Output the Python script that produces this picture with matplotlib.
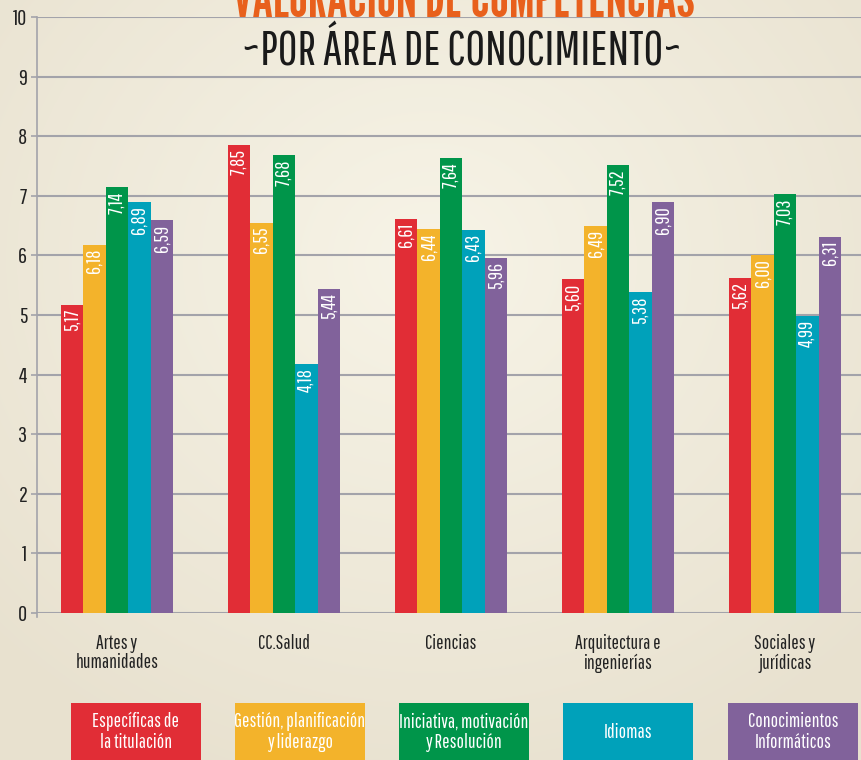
import numpy as np
import matplotlib
matplotlib.use("Agg")
import matplotlib.pyplot as plt
from matplotlib.patches import Rectangle

plt.rcParams['font.family'] = ['Pathway Gothic One', 'DejaVu Sans']

# ---- data ----
categories = ["Artes y\nhumanidades", "CC.Salud", "Ciencias",
              "Arquitectura e\ningenierías", "Sociales y\njurídicas"]
series_names = ["Específicas de\nla titulación", "Gestión, planificación\ny liderazgo",
                "Iniciativa, motivación\ny Resolución", "Idiomas",
                "Conocimientos\nInformáticos"]
especificas = [5.17, 7.85, 6.61, 5.60, 5.62]
gestion     = [6.18, 6.55, 6.44, 6.49, 6.00]
iniciativa  = [7.14, 7.68, 7.64, 7.52, 7.03]
idiomas     = [6.89, 4.18, 6.43, 5.38, 4.99]
informatica = [6.59, 5.44, 5.96, 6.90, 6.31]
series = [especificas, gestion, iniciativa, idiomas, informatica]
yticks = list(range(0, 11))
colors = ["#E12D36", "#F3B32B", "#00954A", "#00A1BA", "#81629B"]

W, H = 861, 760
fig = plt.figure(figsize=(W / 100, H / 100), dpi=100)

# background radial gradient
bg = fig.add_axes([0, 0, 1, 1], zorder=-10)
yy, xx = np.mgrid[0:H, 0:W]
r = np.sqrt(((xx - 430) / 620.0) ** 2 + ((yy - 260) / 560.0) ** 2)
r = np.clip(r, 0, 1)
c0 = np.array([247, 244, 231]) / 255.0
c1 = np.array([232, 225, 207]) / 255.0
img = c0[None, None, :] * (1 - r[..., None]) + c1[None, None, :] * r[..., None]
bg.imshow(img, aspect='auto', extent=[0, 1, 0, 1], origin='upper')
bg.axis('off')

ax = fig.add_axes([37 / W, 147 / H, 1 - 37 / W, 596 / H])
ax.set_facecolor('none')
x = np.arange(len(categories))
w = 0.134
for i, (vals, col) in enumerate(zip(series, colors)):
    xs = x + (i - 2) * w
    ax.bar(xs, vals, width=w, color=col, zorder=3, linewidth=0)
    for xi, v in zip(xs, vals):
        ax.text(xi, v - 0.07, f"{v:.2f}".replace('.', ','), rotation=90,
                ha='center', va='top', color='white', fontsize=14.5, zorder=4)

ax.set_xlim(-0.479, 4.455)
ax.set_ylim(0, 10)
ax.set_yticks(yticks)
ax.set_yticklabels([str(t) for t in yticks], fontsize=16, color='#222222')
ax.yaxis.grid(True, color='#A3A3AA', linewidth=1.5, zorder=0)
ax.set_axisbelow(True)
ax.tick_params(axis='y', length=4, width=1.2, color='#A3A3AA', pad=3)
ax.tick_params(axis='x', length=0)
ax.set_xticks([])
for s in ['top', 'right', 'bottom']:
    ax.spines[s].set_visible(False)
ax.spines['left'].set_color('#A3A3AA')
ax.spines['left'].set_linewidth(1.2)
ax.spines['left'].set_bounds(-0.06, 10)

# category labels
for xi, cat in zip(x, categories):
    ax.text(xi, -0.36, cat, ha='center', va='top', fontsize=14, color='#222222',
            linespacing=1.0)

# titles
t1 = fig.text(464 / W, 1 - 17 / H, "VALORACIÓN DE COMPETENCIAS", ha='center', va='baseline',
              fontsize=40, color='#E8601C', family=['League Gothic', 'DejaVu Sans'])
t2 = fig.text(462 / W, 1 - 65 / H, "~POR ÁREA DE CONOCIMIENTO~", ha='center', va='baseline',
              fontsize=40, color='#1a1a1a')
renderer = fig.canvas.get_renderer()
for t, target in [(t1, 462), (t2, 440)]:
    bw = t.get_window_extent(renderer).width
    t.set_fontsize(t.get_fontsize() * target / bw)

# legend boxes
box_x = [71, 235, 399, 563, 728]
for bx, name, col in zip(box_x, series_names, colors):
    fig.patches.append(Rectangle((bx / W, 0), 130 / W, 57 / H, transform=fig.transFigure,
                                 facecolor=col, edgecolor='none', zorder=1))
    fig.text((bx + 65) / W, 28 / H, name, ha='center', va='center', fontsize=14,
             color='white', linespacing=1.1, zorder=2)

fig.savefig("out.png", dpi=100)
